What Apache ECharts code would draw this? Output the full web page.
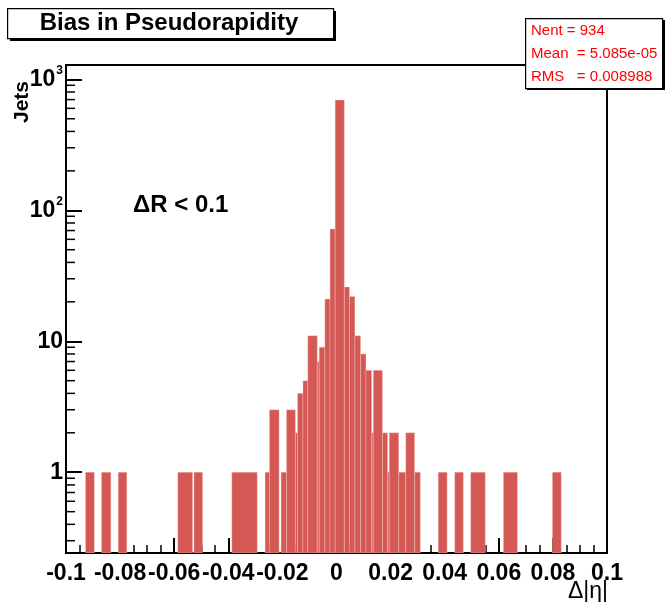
<!DOCTYPE html>
<html><head><meta charset="utf-8">
<script src="https://cdn.jsdelivr.net/npm/echarts@6/dist/echarts.min.js"></script>
<style>html,body{margin:0;padding:0;background:#fff}#c{width:665px;height:602px}</style>
</head><body><div id="c"></div>
<script>
// Histogram bins (low edge, high edge) and counts
const binLow  = [-0.0928,-0.0869,-0.0807,-0.0587,-0.0527,-0.0387,-0.0264,-0.0248,-0.0205,-0.0185,-0.0152,-0.0144,-0.0124,-0.0106,-0.0071,-0.0064,-0.0043,-0.0024,-0.0005,0.0029,0.0048,0.0068,0.0089,0.0109,0.0130,0.0136,0.0170,0.0189,0.0195,0.0230,0.0256,0.0289,0.0376,0.0437,0.0496,0.0617,0.0798];
const binHigh = [-0.0895,-0.0834,-0.0775,-0.0532,-0.0495,-0.0293,-0.0248,-0.0212,-0.0185,-0.0152,-0.0144,-0.0124,-0.0106,-0.0071,-0.0064,-0.0043,-0.0024,-0.0005,0.0029,0.0048,0.0068,0.0089,0.0109,0.0130,0.0136,0.0170,0.0189,0.0195,0.0230,0.0256,0.0289,0.0310,0.0409,0.0469,0.0550,0.0669,0.0831];
const counts  = [1,1,1,1,1,1,1,3,1,3,2,4,5,11,7,9,21,72,694,26,22,11,8,6,2,6,2,1,2,1,2,1,1,1,1,1,1];

const xMin = -0.1, xMax = 0.1, xInterval = 0.02;
const yMin = 0.2417, yMax = 1286;
const yDecades = [0.1, 1, 10, 100];          // decades for minor ticks
const minorMultipliers = [2,3,4,5,6,7,8,9];

const statsLines = ['Nent = 934', 'Mean  = 5.085e-05', 'RMS   = 0.008988'];
const titleText = 'Bias in Pseudorapidity';
const cutText = '\u0394R < 0.1';
const xTitle = '\u0394|\u03b7|';
const yTitle = 'Jets';

const FONT = '"Liberation Sans", Arial, Helvetica, sans-serif';
const barColor = '#d45955';

const histData = binLow.map((l, i) => [l, binHigh[i], counts[i]]);
const minorVals = [];
yDecades.forEach(d => minorMultipliers.forEach(m => { const v = d * m; if (v > yMin && v < yMax) minorVals.push([v]); }));

const chart = echarts.init(document.getElementById('c'), null, {renderer: 'canvas'});
chart.setOption({
  animation: false,
  backgroundColor: '#fff',
  grid: {left: 66, right: 58, top: 65, bottom: 49, show: true, borderColor: '#000', borderWidth: 2, backgroundColor: 'transparent'},
  xAxis: {
    type: 'value', min: xMin, max: xMax, interval: xInterval,
    axisLine: {show: true, onZero: false, lineStyle: {color: '#000', width: 2}},
    axisTick: {show: true, inside: true, length: 15, lineStyle: {color: '#000', width: 2}},
    minorTick: {show: true, splitNumber: 4, length: 8, lineStyle: {color: '#000', width: 1.5}},
    splitLine: {show: false},
    axisLabel: {
      margin: 9, color: '#000', fontFamily: FONT, fontWeight: 'bold', fontSize: 23,
      formatter: v => String(+(+v).toFixed(3))
    }
  },
  yAxis: {
    type: 'log', logBase: 10, min: yMin, max: yMax,
    axisLine: {show: true, onZero: false, lineStyle: {color: '#000', width: 2}},
    axisTick: {show: true, inside: true, length: 16, lineStyle: {color: '#000', width: 2}},
    splitLine: {show: false},
    axisLabel: {
      margin: 3, showMinLabel: false, showMaxLabel: false,
      formatter: v => {
        const l = Math.log10(v), e = Math.round(l);
        if (Math.abs(l - e) > 1e-6) return '';
        if (e === 0) return '{b|1}';
        if (e === 1) return '{b|10}';
        return '{b|10}{s|' + e + '}';
      },
      rich: {
        b: {fontFamily: FONT, fontWeight: 'bold', fontSize: 23, color: '#000'},
        s: {fontFamily: FONT, fontWeight: 'bold', fontSize: 12, color: '#000', padding: [0, 0, 18, 1]}
      }
    }
  },
  series: [
    {
      type: 'custom', name: 'hist', data: histData, encode: {x: [0, 1], y: 2},
      clip: true,
      renderItem: (params, api) => {
        const p0 = api.coord([api.value(0), api.value(2)]);
        const p1 = api.coord([api.value(1), yMin]);
        return {type: 'rect', shape: {x: p0[0], y: p0[1], width: p1[0] - p0[0], height: p1[1] - p0[1]},
          style: {fill: barColor, stroke: 'rgba(250,215,212,0.55)', lineWidth: 0.6}};
      },
      z: 1
    },
    {
      type: 'custom', name: 'yminor', data: minorVals, encode: {y: 0},
      renderItem: (params, api) => {
        const p = api.coord([xMin, api.value(0)]);
        return {type: 'line', shape: {x1: p[0], y1: p[1], x2: p[0] + 9, y2: p[1]}, style: {stroke: '#000', lineWidth: 1.5}};
      },
      z: 5, silent: true
    }
  ],
  graphic: [
    // title box
    {type: 'rect', left: 10, top: 11, shape: {width: 326, height: 30}, style: {fill: '#000'}, z: 10},
    {type: 'rect', left: 7, top: 8, shape: {width: 326, height: 30}, style: {fill: '#fff', stroke: '#000', lineWidth: 1.2}, z: 11},
    {type: 'text', x: 169, y: 23, style: {text: titleText, font: 'bold 24px ' + FONT, fill: '#000', align: 'center', verticalAlign: 'middle'}, z: 12},
    // stats box
    {type: 'rect', left: 527, top: 20, shape: {width: 138, height: 70}, style: {fill: '#000'}, z: 10},
    {type: 'rect', left: 525, top: 18, shape: {width: 137, height: 70}, style: {fill: '#fff', stroke: '#000', lineWidth: 1.2}, z: 11},
    {type: 'text', x: 531, y: 31, style: {text: statsLines[0], font: '15px ' + FONT, fill: '#ff0000', verticalAlign: 'middle'}, z: 12},
    {type: 'text', x: 531, y: 54, style: {text: statsLines[1], font: '15px ' + FONT, fill: '#ff0000', verticalAlign: 'middle'}, z: 12},
    {type: 'text', x: 531, y: 77, style: {text: statsLines[2], font: '15px ' + FONT, fill: '#ff0000', verticalAlign: 'middle'}, z: 12},
    // annotations
    {type: 'text', x: 133, y: 205, style: {text: cutText, font: 'bold 24px ' + FONT, fill: '#000', verticalAlign: 'middle'}, z: 12},
    {type: 'text', x: 608, y: 592, style: {text: xTitle, font: '23px ' + FONT, fill: '#000', align: 'right', verticalAlign: 'middle'}, z: 12},
    {type: 'text', x: 22, y: 102, rotation: Math.PI / 2, style: {text: yTitle, font: 'bold 21px ' + FONT, fill: '#000', align: 'center', verticalAlign: 'middle'}, z: 12}
  ]
});
</script></body></html>
